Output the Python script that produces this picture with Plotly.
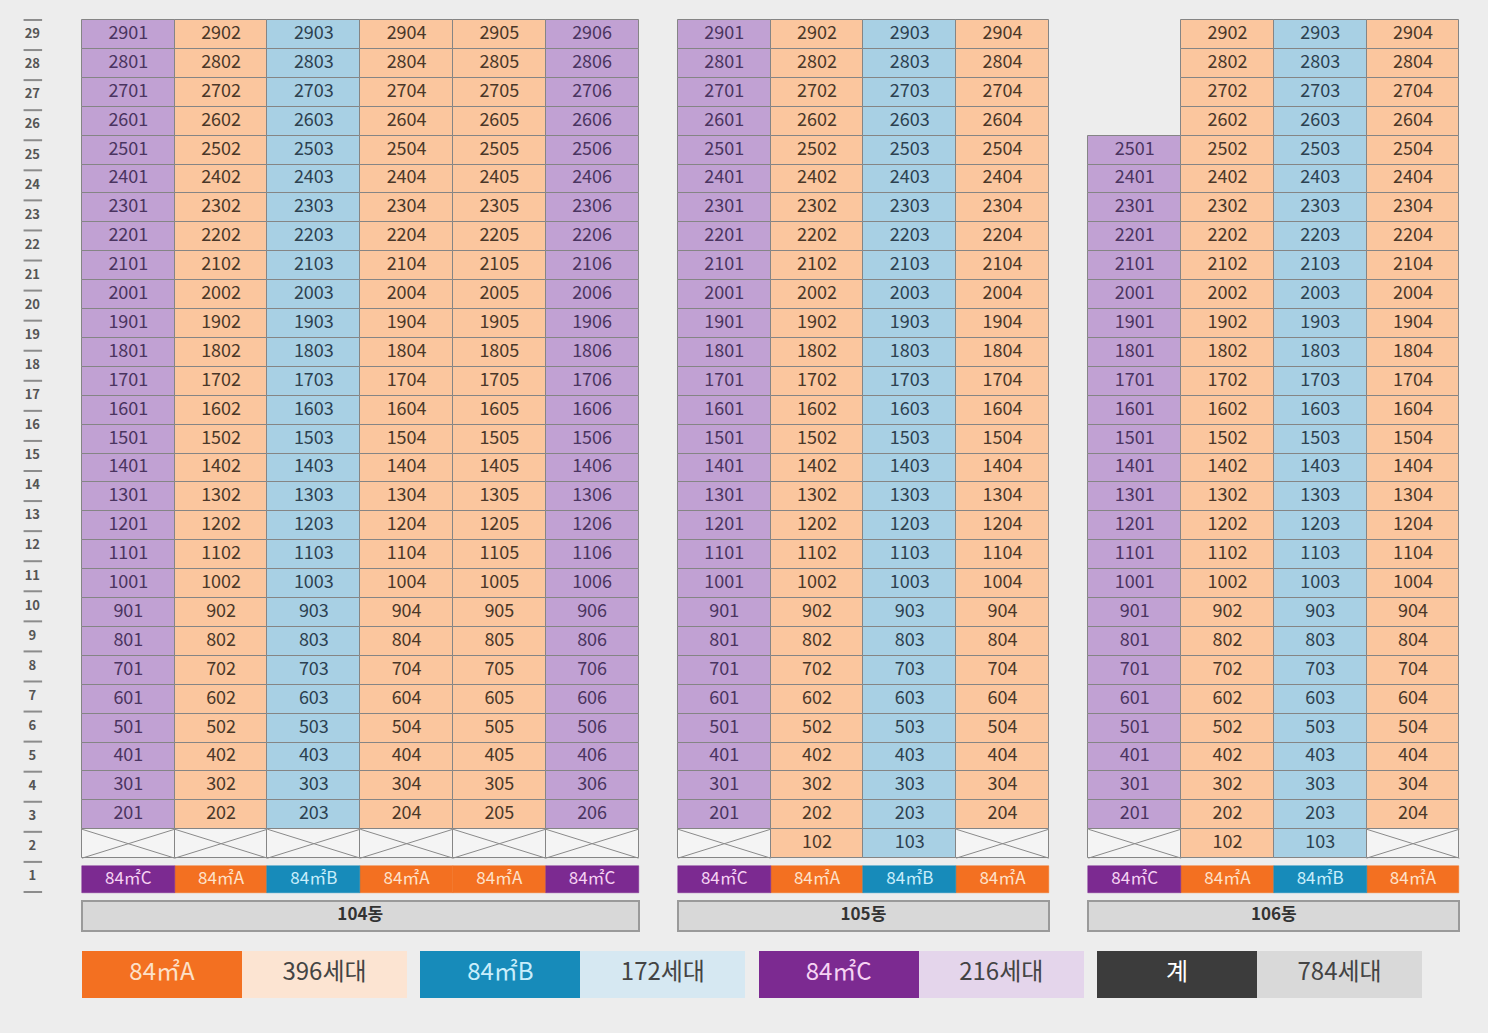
import plotly.graph_objects as go

# ---------------- data ----------------
buildings = ["104동", "105동", "106동"]
types_104 = ["C", "A", "B", "A", "A", "C"]
types_105 = ["C", "A", "B", "A"]
types_106 = ["C", "A", "B", "A"]
top_104 = [29, 29, 29, 29, 29, 29]
top_105 = [29, 29, 29, 29]
top_106 = [25, 29, 29, 29]
low_104 = [2, 2, 2, 2, 2, 2]
low_105 = [2, 1, 1, 2]
low_106 = [2, 1, 1, 2]
floor_labels = list(range(1, 30))
type_codes = ["A", "B", "C"]
type_names = ["84㎡A", "84㎡B", "84㎡C"]
legend_labels = ["84㎡A", "84㎡B", "84㎡C", "계"]
legend_counts = ["396세대", "172세대", "216세대", "784세대"]

# ---------------- style ----------------
FONT = "Noto Sans CJK KR, Noto Sans, sans-serif"
BG = "#EDEDED"
cell_fill = {"A": "#FBC69E", "B": "#A8D0E4", "C": "#C1A1D3"}
cell_text = {"A": "#4A3728", "B": "#2C4150", "C": "#4A3460"}
bar_fill = {"A": "#F37021", "B": "#178BBA", "C": "#7C2A91"}
bar_text = {"A": "#FDE2CB", "B": "#C9EEFB", "C": "#F6D3F3"}
legend_dark = ["#F37021", "#178BBA", "#7C2A91", "#3C3C3C"]
legend_light = ["#FCE4D2", "#D6E8F2", "#E4D5EB", "#D9D9D9"]
legend_dark_text = ["#FCE1C9", "#C9EEFB", "#F6D3F3", "#FFFFFF"]
GRID = "#858585"

building_gap = 0.425
row_bar_base, row_bar_h = -0.71, 0.94
bld_base, bld_h = -2.02, 1.04
leg_base, leg_h = -4.34, 1.63
leg_dark_w, leg_light_w, leg_pitch = 1.725, 1.78, 3.648

all_types = [types_104, types_105, types_106]
all_top = [top_104, top_105, top_106]
all_low = [low_104, low_105, low_106]

fig = go.Figure()

cells = {t: {"x": [], "f": [], "txt": []} for t in type_codes}
empty_x, empty_f = [], []
typebar = {t: {"x": [], "txt": []} for t in type_codes}
bld_x, bld_w = [], []

start = 0.0
for b, name in enumerate(buildings):
    tps = all_types[b]
    for i, t in enumerate(tps):
        xc = start + i + 0.5
        for f in range(all_low[b][i], all_top[b][i] + 1):
            cells[t]["x"].append(xc)
            cells[t]["f"].append(f)
            cells[t]["txt"].append(str(f * 100 + i + 1))
        for f in range(1, all_low[b][i]):
            empty_x.append(xc)
            empty_f.append(f)
        typebar[t]["x"].append(xc)
        typebar[t]["txt"].append(type_names[type_codes.index(t)])
    bld_x.append(start + len(tps) / 2)
    bld_w.append(len(tps))
    start += len(tps) + building_gap

# unit cells
for t in type_codes:
    c = cells[t]
    fig.add_trace(go.Bar(
        x=c["x"], y=[1] * len(c["x"]), base=[f - 0.5 for f in c["f"]], width=1,
        marker=dict(color=cell_fill[t], line=dict(color=GRID, width=1)),
        hoverinfo="skip", showlegend=False))

# empty (pilotis) cells
fig.add_trace(go.Bar(
    x=empty_x, y=[1] * len(empty_x), base=[f - 0.5 for f in empty_f], width=1,
    marker=dict(color="#F4F4F4", line=dict(color=GRID, width=1)),
    hoverinfo="skip", showlegend=False))
cx, cy = [], []
for x, f in zip(empty_x, empty_f):
    cx += [x - 0.5, x + 0.5, None, x - 0.5, x + 0.5, None]
    cy += [f - 0.5, f + 0.5, None, f + 0.5, f - 0.5, None]
fig.add_trace(go.Scatter(x=cx, y=cy, mode="lines", line=dict(color="#8A8A8A", width=1),
                         hoverinfo="skip", showlegend=False))

# cell numbers
for t in type_codes:
    c = cells[t]
    fig.add_trace(go.Scatter(
        x=c["x"], y=c["f"], mode="text", text=c["txt"],
        textfont=dict(family=FONT, size=18, color=cell_text[t]),
        hoverinfo="skip", showlegend=False))

# unit-type row
for t in type_codes:
    tb = typebar[t]
    fig.add_trace(go.Bar(
        x=tb["x"], y=[row_bar_h] * len(tb["x"]), base=row_bar_base, width=1,
        marker=dict(color=bar_fill[t], line=dict(color=bar_fill[t], width=0.5)),
        hoverinfo="skip", showlegend=False))
    fig.add_trace(go.Scatter(
        x=tb["x"], y=[row_bar_base + row_bar_h / 2] * len(tb["x"]), mode="text", text=tb["txt"],
        textfont=dict(family=FONT, size=17, color=bar_text[t]),
        hoverinfo="skip", showlegend=False))

# building names
fig.add_trace(go.Bar(
    x=bld_x, y=[bld_h] * 3, base=bld_base, width=bld_w,
    marker=dict(color="#D8D8D8", line=dict(color="#9A9A9A", width=2)),
    hoverinfo="skip", showlegend=False))
fig.add_trace(go.Scatter(
    x=bld_x, y=[bld_base + bld_h / 2] * 3, mode="text",
    text=["<b>%s</b>" % n for n in buildings],
    textfont=dict(family=FONT, size=17, color="#333333"),
    hoverinfo="skip", showlegend=False))

# floor scale on the left (own vertical axis)
fig.add_trace(go.Scatter(
    x=[-0.535] * len(floor_labels), y=floor_labels, yaxis="y2", mode="text",
    text=["<b>%d</b>" % f for f in floor_labels],
    textfont=dict(family=FONT, size=13, color="#555555"),
    hoverinfo="skip", showlegend=False))
tx, ty = [], []
for f in [floor_labels[0] - 1] + floor_labels:
    tx += [-0.63, -0.43, None]
    ty += [f + 0.5, f + 0.5, None]
fig.add_trace(go.Scatter(x=tx, y=ty, yaxis="y2", mode="lines", line=dict(color="#8C8C8C", width=2),
                         hoverinfo="skip", showlegend=False))

# legend / totals
dark_x = [g * leg_pitch + leg_dark_w / 2 for g in range(len(legend_labels))]
light_x = [g * leg_pitch + leg_dark_w + leg_light_w / 2 for g in range(len(legend_labels))]
fig.add_trace(go.Bar(
    x=light_x, y=[leg_h] * 4, base=leg_base, width=leg_light_w,
    marker=dict(color=legend_light, line=dict(width=0)), hoverinfo="skip", showlegend=False))
fig.add_trace(go.Bar(
    x=dark_x, y=[leg_h] * 4, base=leg_base, width=leg_dark_w,
    marker=dict(color=legend_dark, line=dict(width=0)), hoverinfo="skip", showlegend=False))
fig.add_trace(go.Scatter(
    x=dark_x, y=[leg_base + leg_h / 2] * 4, mode="text", text=legend_labels,
    textfont=dict(family=FONT, size=24, color=legend_dark_text),
    hoverinfo="skip", showlegend=False))
fig.add_trace(go.Scatter(
    x=light_x, y=[leg_base + leg_h / 2] * 4, mode="text", text=legend_counts,
    textfont=dict(family=FONT, size=24, color="#444444"),
    hoverinfo="skip", showlegend=False))

fig.update_layout(
    width=1488, height=1033, autosize=False,
    margin=dict(l=0, r=0, t=0, b=0),
    paper_bgcolor=BG, plot_bgcolor=BG,
    barmode="overlay", bargap=0,
    xaxis=dict(range=[-0.884, 15.159], visible=False, fixedrange=True),
    yaxis=dict(range=[-5.55, 30.192], visible=False, fixedrange=True),
    yaxis2=dict(range=[-4.19, 30.164], visible=False, fixedrange=True, overlaying="y"),
    showlegend=False,
)

fig.write_html("out.html", config={"displayModeBar": False},
               post_script="document.body.style.margin='0';document.body.style.overflow='hidden';")
